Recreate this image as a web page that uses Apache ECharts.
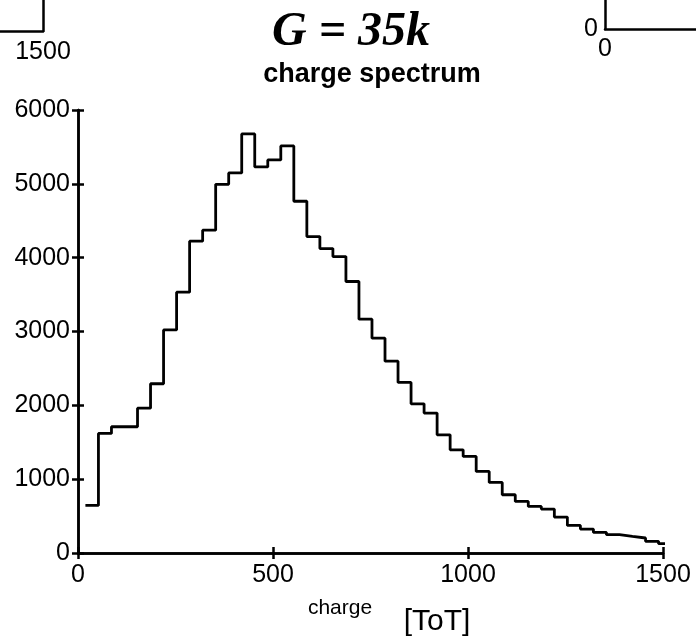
<!DOCTYPE html>
<html>
<head>
<meta charset="utf-8">
<script src="https://cdn.jsdelivr.net/npm/echarts@6/dist/echarts.min.js"></script>
<style>
html,body{margin:0;padding:0;background:#fff;}
#chart{width:696px;height:642px;}
</style>
</head>
<body>
<div id="chart"></div>
<script>
// ---- data ----
const binStart = 19;      // left edge of first bin (charge, ToT)
const binWidth = 33.4;    // bin width (charge, ToT)
const counts = [645, 1619, 1710, 1710, 1962, 2292, 3022, 3532, 4223, 4372,
                4994, 5148, 5676, 5229, 5324, 5513, 4764, 4286, 4123, 4015,
                3677, 3167, 2910, 2598, 2310, 2021, 1895, 1601, 1398, 1308,
                1105, 956, 789, 699, 631, 595, 487, 374, 324, 279,
                248, 225, 203, 158, 126];
const xTicks = [0, 500, 1000, 1500];
const yTicks = [0, 1000, 2000, 3000, 4000, 5000, 6000];
const mainTitle = 'G = 35k';
const subTitle = 'charge spectrum';
const xName = 'charge';
const xUnit = '[ToT]';

// stair points (bin left edges + closing edge)
const stairs = counts.map((c, i) => [binStart + i * binWidth, c]);
stairs.push([binStart + counts.length * binWidth, counts[counts.length - 1]]);

const chart = echarts.init(document.getElementById('chart'), null, {renderer: 'canvas'});

const sans = '"Liberation Sans", Arial, sans-serif';
const serif = '"Liberation Serif", "Times New Roman", serif';

function label(text, font, x, y) {
  return {
    type: 'text', x: x, y: y,
    style: {
      text: text, font: font, fill: '#000',
      textAlign: 'center', textVerticalAlign: 'middle',
      align: 'center', verticalAlign: 'middle'
    },
    silent: true
  };
}

const plain = v => String(v);
const axisLineStyle = {color: '#000', width: 2.5};
const tickStyle = {color: '#000', width: 2.5};
const lbl = {color: '#000', fontFamily: sans, fontSize: 25, formatter: plain};

const option = {
  animation: false,
  backgroundColor: '#fff',
  grid: [
    {left: 78, right: 33, top: 110, bottom: 89, containLabel: false},
    {left: 0, top: 0, width: 43, height: 31},
    {left: 605, top: 0, width: 91, height: 29}
  ],
  xAxis: [
    {
      gridIndex: 0, type: 'value', min: xTicks[0], max: xTicks[xTicks.length - 1], interval: 500,
      position: 'bottom',
      axisLine: {show: true, lineStyle: axisLineStyle},
      axisTick: {show: true, inside: true, length: 6, lineStyle: tickStyle},
      axisLabel: Object.assign({margin: 10}, lbl),
      splitLine: {show: false}
    },
    {
      gridIndex: 0, type: 'value', min: xTicks[0], max: xTicks[xTicks.length - 1], interval: 500,
      position: 'top',
      axisLine: {show: true, lineStyle: axisLineStyle},
      axisTick: {show: true, inside: true, length: 6, lineStyle: tickStyle},
      axisLabel: {show: false},
      splitLine: {show: false}
    },
    {
      gridIndex: 1, type: 'value', min: 1000, max: 1500, interval: 500,
      axisLine: {show: true, onZero: false, lineStyle: {color: '#000', width: 2.5}},
      axisTick: {show: false},
      axisLabel: Object.assign({margin: 9, showMinLabel: false}, lbl),
      splitLine: {show: false}
    },
    {
      gridIndex: 2, type: 'value', min: 0, max: 100, interval: 100,
      axisLine: {show: true, onZero: false, lineStyle: {color: '#000', width: 2.5}},
      axisTick: {show: false},
      axisLabel: Object.assign({margin: 8, showMaxLabel: false}, lbl),
      splitLine: {show: false}
    }
  ],
  yAxis: [
    {
      gridIndex: 0, type: 'value', min: yTicks[0], max: yTicks[yTicks.length - 1], interval: 1000,
      position: 'left',
      axisLine: {show: true, lineStyle: axisLineStyle},
      axisTick: {show: true, inside: true, length: 6, lineStyle: tickStyle},
      axisLabel: Object.assign({margin: 8}, lbl),
      splitLine: {show: false}
    },
    {
      gridIndex: 0, type: 'value', min: yTicks[0], max: yTicks[yTicks.length - 1], interval: 1000,
      position: 'right',
      axisLine: {show: true, lineStyle: axisLineStyle},
      axisTick: {show: true, inside: true, length: 6, lineStyle: tickStyle},
      axisLabel: {show: false},
      splitLine: {show: false}
    },
    {
      gridIndex: 1, type: 'value', min: 0, max: 1, position: 'right',
      axisLine: {show: true, onZero: false, lineStyle: {color: '#000', width: 2.5}},
      axisTick: {show: false},
      axisLabel: {show: false},
      splitLine: {show: false}
    },
    {
      gridIndex: 2, type: 'value', min: 0, max: 1000, interval: 1000, position: 'left',
      axisLine: {show: true, onZero: false, lineStyle: {color: '#000', width: 2.5}},
      axisTick: {show: false},
      axisLabel: Object.assign({margin: 7, showMaxLabel: false}, lbl),
      splitLine: {show: false}
    }
  ],
  series: [
    {
      type: 'line',
      xAxisIndex: 0, yAxisIndex: 0,
      step: 'end',
      data: stairs,
      showSymbol: false,
      symbol: 'none',
      clip: true,
      lineStyle: {color: '#000', width: 2.8},
      z: 3
    }
  ],
  graphic: [
    label(mainTitle, 'italic bold 48px ' + serif, 351, 33),
    label(subTitle, 'bold 27px ' + sans, 372, 75),
    label(xName, '21px ' + sans, 340, 608),
    label(xUnit, '30px ' + sans, 437, 622)
  ]
};

chart.setOption(option);
</script>
</body>
</html>
